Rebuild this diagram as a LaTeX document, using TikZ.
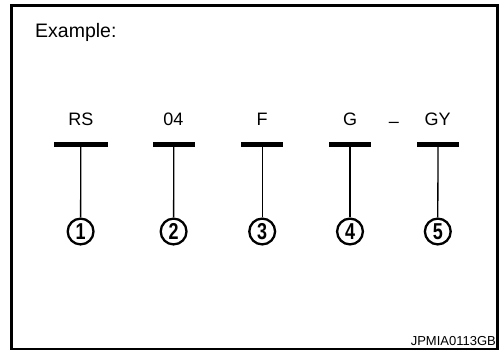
\documentclass[tikz,border=0pt]{standalone}
\usepackage{fontspec}
\setmainfont{Liberation Sans}
\begin{document}
\begin{tikzpicture}[x=1pt,y=-1pt,
  lbl/.style={inner sep=0pt,anchor=base,font=\fontsize{18}{18}\selectfont},
  barbox/.style={fill=black,inner sep=0pt,minimum height=5pt,minimum width=42pt},
  num/.style={circle,draw,line width=2.3pt,minimum size=25.8pt,inner sep=0pt,
    font=\fontsize{23}{23}\selectfont\bfseries},
  stem/.style={line width=1.3pt}]
\useasboundingbox (0,0) rectangle (501,351);
\draw[line width=2.5pt] (11.7,5.5) rectangle (497.3,349.2);
\node[inner sep=0pt,anchor=base west,font=\fontsize{19.5}{19.5}\selectfont] (ex) at (35,37.3) {Example:};
% labels
\node[lbl] (l1) at (81,125.8) {RS};
\node[lbl] (l2) at (173.5,125.8) {04};
\node[lbl] (l3) at (262,125.8) {F};
\node[lbl] (l4) at (350,125.8) {G};
\node[lbl] (dash) at (394,127.3) {–};
\node[lbl] (l5) at (437.5,125.8) {GY};
% bars
\node[barbox,minimum width=53.5pt] (b1) at (80.8,144.8) {};
\node[barbox] (b2) at (173.8,144.8) {};
\node[barbox] (b3) at (262.2,144.8) {};
\node[barbox] (b4) at (350,144.8) {};
\node[barbox] (b5) at (438,144.8) {};
% circled numbers
\node[num] (c1) at (80.6,231.5) {\scalebox{0.78}[1]{1}};
\node[num] (c2) at (173.6,231.5) {\scalebox{0.78}[1]{2}};
\node[num] (c3) at (262.2,231.5) {\scalebox{0.78}[1]{3}};
\node[num] (c4) at (350,231.5) {\scalebox{0.78}[1]{4}};
\node[num] (c5) at (437.8,231.5) {\scalebox{0.78}[1]{5}};
\foreach \i in {1,...,5} \draw[stem] (b\i.center) -- (c\i.north);
\node[inner sep=0pt,anchor=base east,font=\fontsize{13}{13}\selectfont] (code) at (496,345.5) {JPMIA0113GB};
\end{tikzpicture}
\end{document}
